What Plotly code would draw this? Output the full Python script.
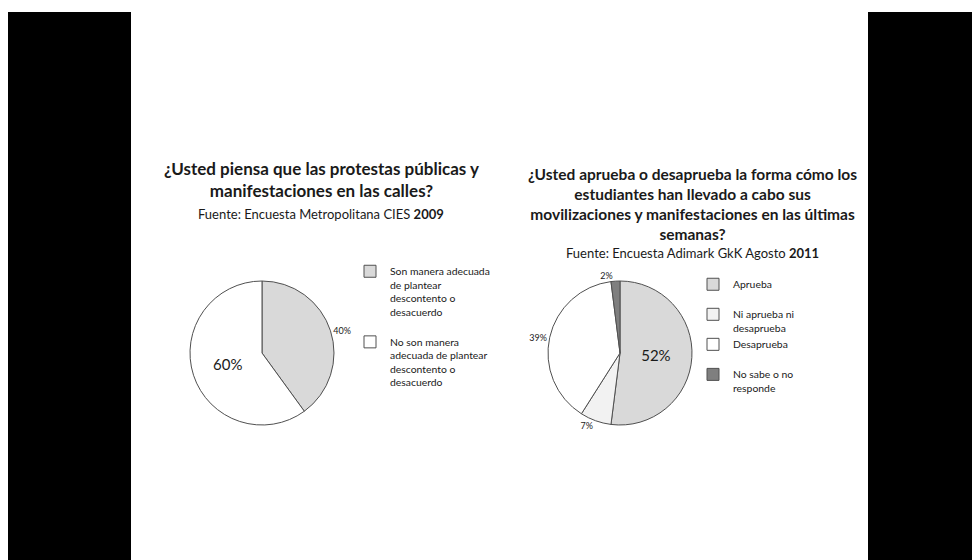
import plotly.graph_objects as go

# Chart 1 data
labels1 = ["Son manera adecuada<br>de plantear<br>descontento o<br>desacuerdo<br> ",
           "No son manera<br>adecuada de plantear<br>descontento o<br>desacuerdo"]
values1 = [40, 60]
colors1 = ["#d9d9d9", "#ffffff"]

# Chart 2 data
labels2 = ["Aprueba<br> ", "Ni aprueba ni<br>desaprueba", "Desaprueba<br> ", "No sabe o no<br>responde"]
values2 = [52, 7, 39, 2]
colors2 = ["#d9d9d9", "#f2f2f2", "#ffffff", "#7f7f7f"]

title1 = "<b>¿Usted piensa que las protestas públicas y<br>manifestaciones en las calles?</b>"
sub1 = "Fuente: Encuesta Metropolitana CIES <b>2009</b>"
title2 = ("<b>¿Usted aprueba o desaprueba la forma cómo los<br>estudiantes han llevado a cabo sus<br>"
          "movilizaciones y manifestaciones en las últimas<br>semanas?</b>")
sub2 = "Fuente: Encuesta Adimark GkK Agosto <b>2011</b>"

FONT = "Lato, 'Open Sans', sans-serif"
W, H = 980, 560

def px(x0, x1):
    return [x0 / W, x1 / W]

def py(y0, y1):
    return [1 - y1 / H, 1 - y0 / H]

fig = go.Figure()
fig.add_trace(go.Pie(
    labels=labels1, values=values1, sort=False, direction="clockwise", rotation=0,
    marker=dict(colors=colors1, line=dict(color="#505050", width=1)),
    texttemplate="%{percent:.0%}", textposition=["outside", "inside"],
    insidetextfont=dict(size=15, color="#1a1a1a"),
    outsidetextfont=dict(size=9, color="#1a1a1a"),
    domain=dict(x=px(182, 326), y=py(273, 417)),
    legend="legend", hoverinfo="percent",
))
fig.add_trace(go.Pie(
    labels=labels2, values=values2, sort=False, direction="clockwise", rotation=0,
    marker=dict(colors=colors2, line=dict(color="#505050", width=1)),
    texttemplate="%{percent:.0%}", textposition=["inside", "outside", "outside", "outside"],
    insidetextfont=dict(size=15, color="#1a1a1a"),
    outsidetextfont=dict(size=9, color="#1a1a1a"),
    domain=dict(x=px(540, 684), y=py(273, 417)),
    legend="legend2", hoverinfo="percent",
))

shapes = [
    dict(type="rect", xref="paper", yref="paper", x0=0, x1=123 / W, y0=0, y1=1 - 4 / H,
         fillcolor="#000000", line=dict(width=0), layer="below"),
    dict(type="rect", xref="paper", yref="paper", x0=860 / W, x1=1, y0=0, y1=1 - 4 / H,
         fillcolor="#000000", line=dict(width=0), layer="below"),
]

annotations = [
    dict(text=title1, x=313 / W, y=1 - 148 / H, xref="paper", yref="paper", xanchor="center",
         yanchor="top", showarrow=False, font=dict(size=17, color="#1a1a1a", family=FONT)),
    dict(text=sub1, x=313 / W, y=1 - 196 / H, xref="paper", yref="paper", xanchor="center",
         yanchor="top", showarrow=False, font=dict(size=13, color="#1a1a1a", family=FONT)),
    dict(text=title2, x=684 / W, y=1 - 155 / H, xref="paper", yref="paper", xanchor="center",
         yanchor="top", showarrow=False, font=dict(size=15.5, color="#1a1a1a", family=FONT)),
    dict(text=sub2, x=684 / W, y=1 - 235 / H, xref="paper", yref="paper", xanchor="center",
         yanchor="top", showarrow=False, font=dict(size=13, color="#1a1a1a", family=FONT)),
]

fig.update_layout(
    width=W, height=H, margin=dict(l=0, r=0, t=0, b=0),
    paper_bgcolor="#ffffff", plot_bgcolor="#ffffff",
    font=dict(family=FONT, color="#1a1a1a"),
    shapes=shapes, annotations=annotations,
    legend=dict(x=342 / W, y=1 - 250 / H, xanchor="left", yanchor="top", valign="top",
                font=dict(size=10.4, family=FONT), itemwidth=30, tracegroupgap=0,
                bgcolor="rgba(0,0,0,0)"),
    legend2=dict(x=685 / W, y=1 - 263 / H, xanchor="left", yanchor="top", valign="top",
                 font=dict(size=10.4, family=FONT), itemwidth=30, tracegroupgap=0,
                 bgcolor="rgba(0,0,0,0)"),
)

fig.write_html("out.html")
